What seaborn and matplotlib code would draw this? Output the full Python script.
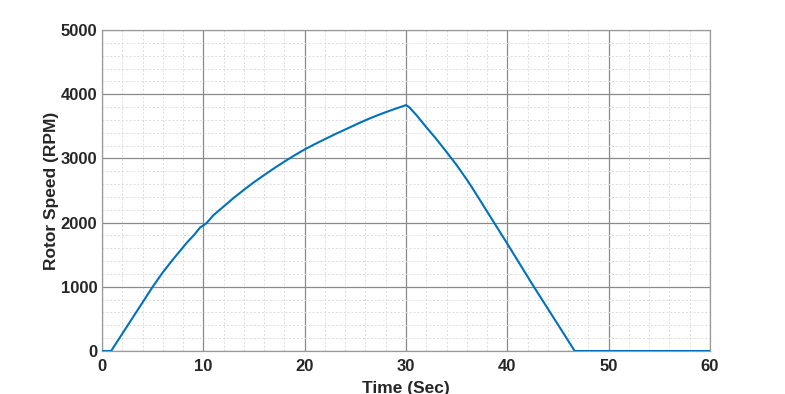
import matplotlib
matplotlib.use("Agg")
import matplotlib.pyplot as plt
import seaborn as sns
import pandas as pd
from matplotlib.ticker import MultipleLocator

time_sec = [0, 0.9, 5.0, 6.0, 6.9, 7.6, 8.4, 9.1, 9.7, 10.0, 10.3,
            11, 12, 13, 14, 15, 16, 17, 18, 19, 20, 21, 22, 23, 24, 25, 26, 27, 28, 29, 30,
            30.3, 31, 32, 33, 34, 35, 36, 36.5, 40, 42.5, 46.65, 60]
rotor_rpm = [0, 0, 1000, 1225, 1406, 1540, 1692, 1810, 1927, 1955, 1990,
             2115, 2250, 2385, 2510, 2630, 2740, 2848, 2950, 3048, 3140, 3222, 3300, 3377, 3450,
             3523, 3595, 3660, 3720, 3776, 3830,
             3800, 3680, 3486, 3300, 3100, 2895, 2670, 2551, 1670, 1030, 0, 0]
x_ticks = [0, 10, 20, 30, 40, 50, 60]
y_ticks = [0, 1000, 2000, 3000, 4000, 5000]

sns.set_style("white")
plt.rcParams['font.family'] = ['Liberation Sans', 'DejaVu Sans']

df = pd.DataFrame({"Time (Sec)": time_sec, "Rotor Speed (RPM)": rotor_rpm})

fig = plt.figure(figsize=(7.85, 3.94), dpi=100)
ax = fig.add_axes([102/785, 1 - 351/394, 608/785, 321/394])

sns.lineplot(data=df, x="Time (Sec)", y="Rotor Speed (RPM)", ax=ax, color="#0072BD",
             linewidth=1.5, zorder=3)

ax.set_xlim(0, 60)
ax.set_ylim(0, 5000)
ax.set_xticks(x_ticks)
ax.set_yticks(y_ticks)
ax.xaxis.set_minor_locator(MultipleLocator(2))
ax.yaxis.set_minor_locator(MultipleLocator(200))

ax.grid(which="major", color="#8a8a8a", linewidth=0.9, linestyle="-", zorder=1)
ax.grid(which="minor", color="#dcdcdc", linewidth=0.7, linestyle=(0, (2, 2)), zorder=0)
ax.set_axisbelow(True)

for s in ax.spines.values():
    s.set_color("#9a9a9a")
    s.set_linewidth(0.9)

ax.tick_params(axis="both", which="both", length=0, labelsize=12, labelcolor="#262626")
ax.tick_params(axis="x", pad=6)
ax.tick_params(axis="y", pad=3.5)
for lbl in ax.get_xticklabels() + ax.get_yticklabels():
    lbl.set_fontweight("bold")

ax.set_xlabel("Time (Sec)", fontsize=12.5, fontweight="bold", color="#262626", labelpad=5)
ax.set_ylabel("Rotor Speed (RPM)", fontsize=12.5, fontweight="bold", color="#262626", labelpad=1)

fig.savefig("out.png", dpi=100)
